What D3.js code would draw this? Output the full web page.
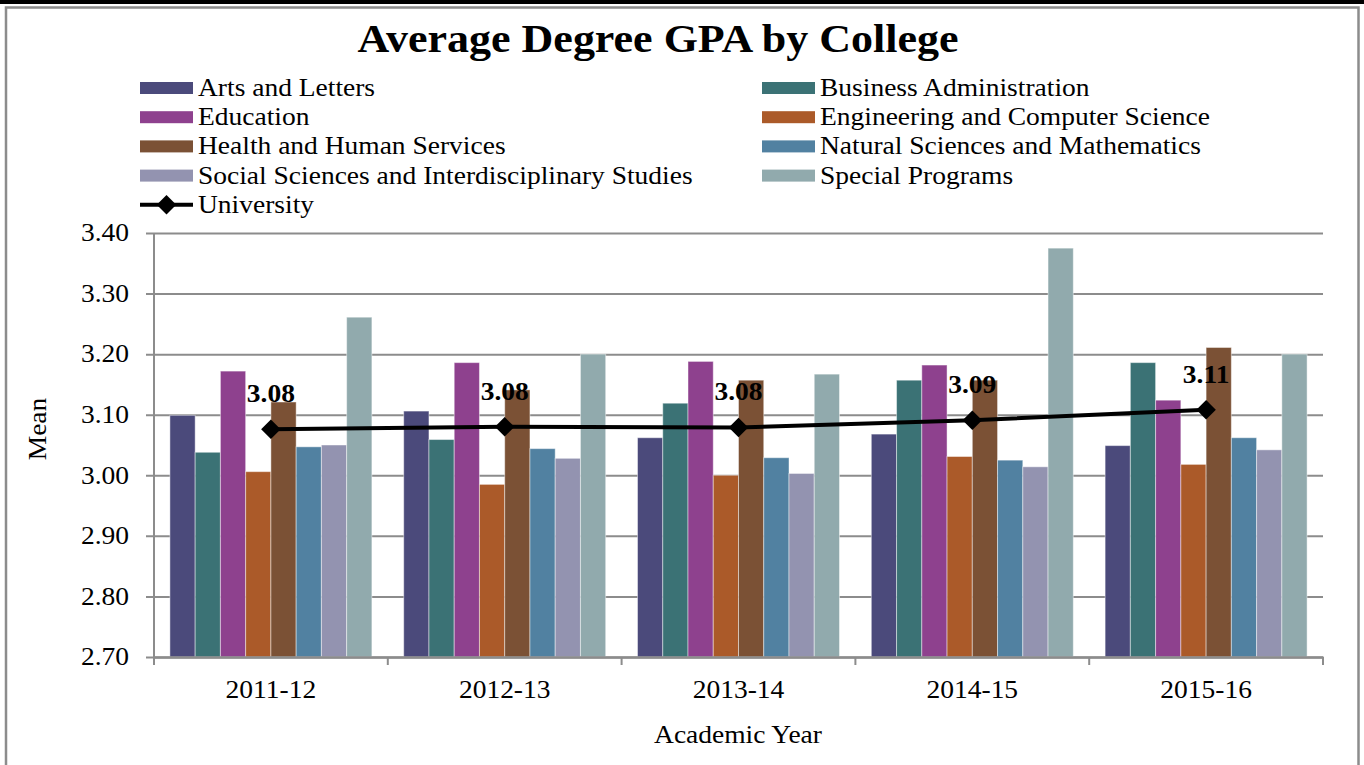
<!DOCTYPE html>
<html>
<head>
<meta charset="utf-8">
<script src="https://cdn.jsdelivr.net/npm/d3@7"></script>
<style>
  body { margin: 0; background: #fff; }
  text { font-family: "Liberation Serif", "Times New Roman", serif; fill: #000; }
</style>
</head>
<body>
<div id="chart"></div>
<script>
var svgWidth = 1364;
var svgHeight = 765;

// Data
var years = ["2011-12", "2012-13", "2013-14", "2014-15", "2015-16"];
var colleges = [
  "Arts and Letters", "Business Administration", "Education",
  "Engineering and Computer Science", "Health and Human Services",
  "Natural Sciences and Mathematics",
  "Social Sciences and Interdisciplinary Studies", "Special Programs"
];
var artsLetters   = [3.099, 3.106, 3.062, 3.068, 3.049];
var businessAdmin = [3.038, 3.059, 3.119, 3.157, 3.186];
var education     = [3.172, 3.186, 3.188, 3.182, 3.124];
var engineering   = [3.006, 2.985, 3.000, 3.031, 3.018];
var healthHuman   = [3.121, 3.141, 3.157, 3.157, 3.211];
var naturalSci    = [3.047, 3.044, 3.029, 3.025, 3.062];
var socialSci     = [3.050, 3.028, 3.003, 3.014, 3.042];
var specialProg   = [3.261, 3.200, 3.167, 3.375, 3.200];
var university    = [3.076, 3.080, 3.079, 3.091, 3.108];
var universityLabels = ["3.08", "3.08", "3.08", "3.09", "3.11"];
var yTicks = [2.70, 2.80, 2.90, 3.00, 3.10, 3.20, 3.30, 3.40];

var seriesValues = [artsLetters, businessAdmin, education, engineering,
  healthHuman, naturalSci, socialSci, specialProg];
var colors = ["#4b4a7b", "#3b7275", "#8e418e", "#ab5a29", "#7b5135",
  "#5181a1", "#9393b0", "#91aaad"];

var stretch = 1.1; // the source font runs a little wider than Times

var svg = d3.select("#chart").append("svg")
  .attr("width", svgWidth)
  .attr("height", svgHeight);

// frame
svg.append("rect").attr("x", 0).attr("y", 0).attr("width", svgWidth).attr("height", 4).attr("fill", "#000");
svg.append("rect").attr("x", 6).attr("y", 7.5).attr("width", 1352.5).attr("height", 800)
  .attr("fill", "none").attr("stroke", "#8c8c8c").attr("stroke-width", 2.5);

function addText(g, x, y, str, size, opts) {
  opts = opts || {};
  var t = g.append("text")
    .attr("transform", `translate(${x},${y}) ${opts.rotate ? "rotate(" + opts.rotate + ")" : ""} scale(${stretch},1)`)
    .attr("font-size", size + "px")
    .attr("text-anchor", opts.anchor || "start")
    .text(str);
  if (opts.bold) t.attr("font-weight", "bold");
  if (opts.dy) t.attr("dy", opts.dy);
  return t;
}

// title
addText(svg, 658, 52, "Average Degree GPA by College", 40, {anchor: "middle", bold: true});

// scales
var x0 = d3.scaleBand().domain(years).range([154, 1323]);
var x1 = d3.scaleBand().domain(colleges).range([0, x0.bandwidth()]).paddingOuter(0.63);
var y = d3.scaleLinear().domain([2.70, 3.40]).range([657, 233]);

// gridlines + y tick labels
var yAxis = d3.axisLeft(y).tickValues(yTicks).tickSize(-(1323 - 146)).tickFormat(d3.format(".2f"));
var yG = svg.append("g").attr("transform", "translate(146,0)").call(yAxis);
yG.select(".domain").remove();
yG.selectAll(".tick line").attr("stroke", "#8c8c8c").attr("stroke-width", 2);
yG.selectAll(".tick text").remove();
yTicks.forEach(function(t) {
  addText(svg, 129, y(t), d3.format(".2f")(t), 25, {anchor: "end", dy: "0.33em"});
});

// bars
var groups = svg.selectAll(".year").data(years).enter().append("g")
  .attr("transform", d => `translate(${x0(d)},0)`);
groups.selectAll("rect")
  .data((d, i) => colleges.map((c, j) => ({college: c, value: seriesValues[j][i], color: colors[j]})))
  .enter().append("rect")
  .attr("x", d => x1(d.college))
  .attr("y", d => y(d.value))
  .attr("width", x1.bandwidth())
  .attr("height", d => y(2.70) - y(d.value))
  .attr("fill", d => d.color)
  .attr("stroke", "rgba(255,255,255,0.45)")
  .attr("stroke-width", 1);

// axes lines
svg.append("line").attr("x1", 154).attr("x2", 154).attr("y1", 233).attr("y2", 657)
  .attr("stroke", "#8c8c8c").attr("stroke-width", 2);
var xAxis = d3.axisBottom(x0).tickSize(0).tickFormat("");
var xG = svg.append("g").attr("transform", "translate(0,657)").call(xAxis);
xG.select(".domain").attr("stroke", "#8c8c8c").attr("stroke-width", 2.5);
xG.selectAll(".tick").remove();
var bounds = years.map(d => x0(d)).concat([x0.range()[1]]);
xG.selectAll(".bound").data(bounds).enter().append("line")
  .attr("x1", d => d).attr("x2", d => d).attr("y1", 0).attr("y2", 8)
  .attr("stroke", "#8c8c8c").attr("stroke-width", 2);
years.forEach(function(yr) {
  addText(svg, x0(yr) + x0.bandwidth() / 2, 698, yr, 25, {anchor: "middle"});
});

// university line
var line = d3.line().x((d, i) => x0(years[i]) + x0.bandwidth() / 2).y(d => y(d));
svg.append("path").datum(university).attr("d", line)
  .attr("fill", "none").attr("stroke", "#000").attr("stroke-width", 4);
var diamond = d3.symbol().type(d3.symbolSquare).size(190);
svg.selectAll(".uni").data(university).enter().append("path")
  .attr("d", diamond)
  .attr("transform", (d, i) => `translate(${x0(years[i]) + x0.bandwidth() / 2},${y(d)}) rotate(45)`)
  .attr("fill", "#000");
university.forEach(function(v, i) {
  addText(svg, x0(years[i]) + x0.bandwidth() / 2, y(v) - 27, universityLabels[i], 25, {anchor: "middle", bold: true});
});

// axis titles
addText(svg, 738, 743, "Academic Year", 25, {anchor: "middle"});
addText(svg, 46, 429, "Mean", 25, {anchor: "middle", rotate: -90});

// legend
var legend = svg.append("g");
colleges.forEach(function(c, i) {
  var col = i % 2, row = Math.floor(i / 2);
  var lx = col === 0 ? 140 : 762;
  var ly = 88 + row * 29.2;
  legend.append("rect").attr("x", lx).attr("y", ly - 6).attr("width", 53).attr("height", 12).attr("fill", colors[i]);
  addText(legend, lx + 58, ly + 8, c, 25);
});
var uy = 88 + 4 * 29.2;
legend.append("line").attr("x1", 140).attr("x2", 193).attr("y1", uy).attr("y2", uy)
  .attr("stroke", "#000").attr("stroke-width", 4);
legend.append("path").attr("d", diamond).attr("transform", `translate(166.5,${uy}) rotate(45)`).attr("fill", "#000");
addText(legend, 198, uy + 8, "University", 25);
</script>
</body>
</html>
